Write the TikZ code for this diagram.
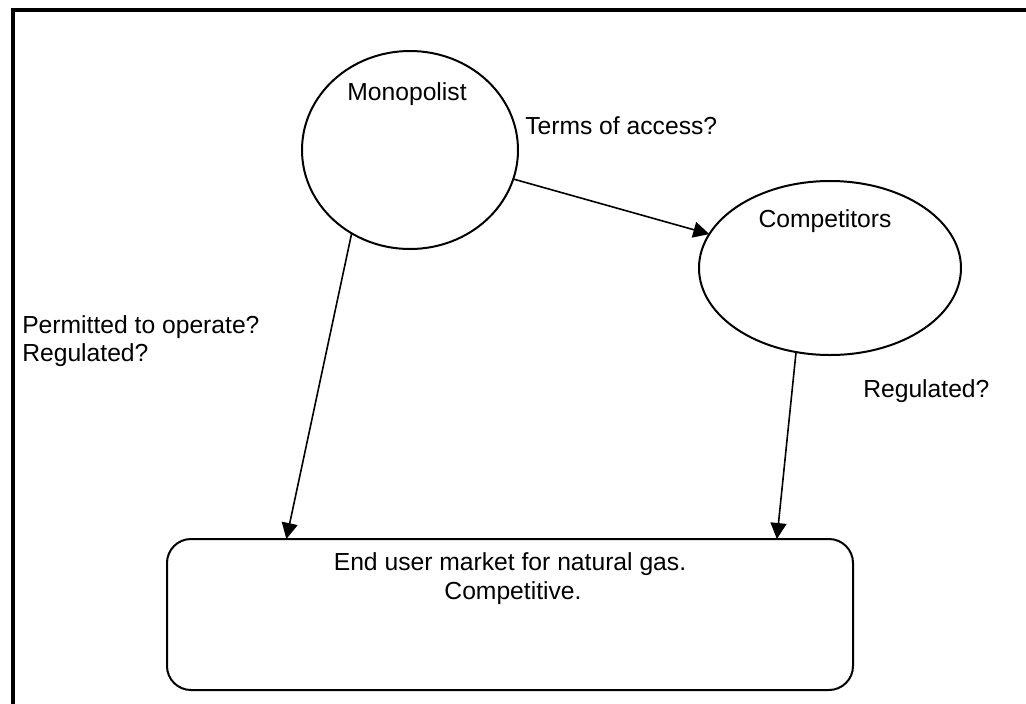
\documentclass[tikz,border=0pt]{standalone}
\usepackage{fontspec}
\setmainfont{Liberation Sans}
\usetikzlibrary{shapes.geometric,arrows.meta,calc}
\begin{document}
\begin{tikzpicture}[x=0.75pt,y=-0.75pt,
  txt/.style={inner sep=0pt, font=\fontsize{18.5}{22}\selectfont},
  oval/.style={ellipse, draw, line width=1.5pt, inner sep=0pt, outer sep=0pt},
  conn/.style={line width=1.2pt, -{Triangle[length=12pt,width=12pt]}},
  frame/.style={line width=3pt}]
\useasboundingbox (0,0) rectangle (1026,704);
% open frame: top and left sides only
\draw[frame] (13,704) -- (13,10) -- (1026,10);

% parties
\node[oval, minimum width=162pt, minimum height=148.5pt] (mono) at (410,150) {};
\node[oval, minimum width=196.5pt, minimum height=130.5pt] (comp) at (830,268) {};
\node[draw, line width=1.5pt, rounded corners=18pt, minimum width=514.5pt,
      minimum height=113.25pt, inner sep=0pt, outer sep=0pt] (market) at (510,614.5) {};

% texts
\node[txt, anchor=base] (monoLbl) at (407,100) {Monopolist};
\node[txt, anchor=base] (compLbl) at (825,227) {Competitors};
\node[txt, anchor=base west] (access) at (525,134) {Terms of access?};
\node[txt, anchor=base west] (permit) at (22,333) {Permitted to operate?};
\node[txt, anchor=base west] (regL) at (22,361) {Regulated?};
\node[txt, anchor=base west] (regR) at (863,397) {Regulated?};
\node[txt, anchor=base] (mkt1) at (510,570) {End user market for natural gas.};
\node[txt, anchor=base] (mkt2) at (513,599) {Competitive.};

% connectors
\draw[conn] (mono) -- (comp);
\draw[conn] (mono.235) -- ($(market.north west)!0.174!(market.north east)$);
\draw[conn] (comp.248) -- ($(market.north west)!0.889!(market.north east)$);
\end{tikzpicture}
\end{document}
